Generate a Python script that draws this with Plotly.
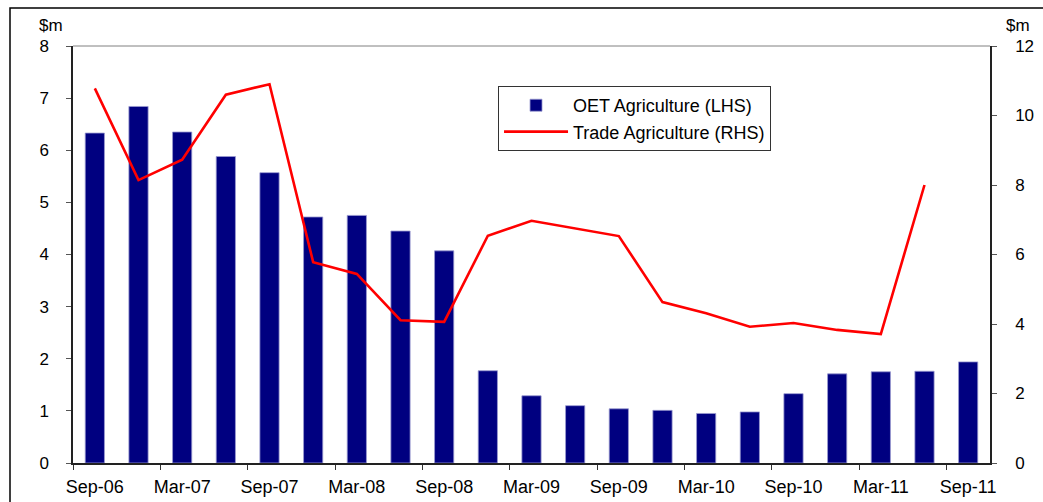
import plotly.graph_objects as go

quarters = ["Sep-06", "Dec-06", "Mar-07", "Jun-07", "Sep-07", "Dec-07", "Mar-08", "Jun-08",
            "Sep-08", "Dec-08", "Mar-09", "Jun-09", "Sep-09", "Dec-09", "Mar-10", "Jun-10",
            "Sep-10", "Dec-10", "Mar-11", "Jun-11", "Sep-11"]
oet_agriculture = [6.33, 6.84, 6.35, 5.88, 5.57, 4.72, 4.75, 4.45, 4.07, 1.77, 1.29, 1.10,
                   1.04, 1.01, 0.95, 0.98, 1.33, 1.71, 1.75, 1.76, 1.94]
trade_agriculture = [10.78, 8.14, 8.73, 10.6, 10.9, 5.78, 5.44, 4.11, 4.06, 6.54, 6.97, 6.75,
                     6.53, 4.63, 4.31, 3.92, 4.03, 3.83, 3.71, 8.0, None]

FONT = "Liberation Sans, Arial, sans-serif"

fig = go.Figure()
fig.add_trace(go.Bar(
    x=quarters, y=oet_agriculture, name="OET Agriculture (LHS)",
    marker=dict(color="#000080", line=dict(color="#9a9ad0", width=0.8)),
    width=0.44, yaxis="y",
))
fig.add_trace(go.Scatter(
    x=quarters, y=trade_agriculture, name="Trade Agriculture (RHS)", mode="lines",
    line=dict(color="#ff0000", width=2.6), yaxis="y2", connectgaps=False,
))

fig.update_layout(
    width=1043, height=502,
    margin=dict(l=73, r=53, t=46, b=39, autoexpand=False),
    paper_bgcolor="white", plot_bgcolor="white",
    font=dict(family=FONT, size=17, color="black"),
    showlegend=True,
    legend=dict(x=0.4635, y=0.904, xanchor="left", yanchor="top",
                bordercolor="#333333", borderwidth=1, bgcolor="white",
                font=dict(family=FONT, size=18, color="black"),
                tracegroupgap=0, itemwidth=64),
    xaxis=dict(type="category", range=[-0.5, 20.5], tickmode="linear", tick0=0, dtick=2,
               tickson="boundaries", ticks="outside", ticklen=5, tickwidth=1.2, tickangle=0,
               tickcolor="#333333", showline=True, linecolor="#222222", linewidth=1.5,
               showgrid=False, zeroline=False, automargin=False, ticklabelstandoff=7,
               tickfont=dict(family=FONT, size=18, color="black")),
    yaxis=dict(range=[0, 8], dtick=1, ticks="outside", ticklen=5, tickwidth=1.2,
               tickcolor="#555555", showline=True, linecolor="#222222", linewidth=1.5,
               showgrid=False, zeroline=False, ticklabelstandoff=14, automargin=False,
               tickfont=dict(family=FONT, size=17, color="black")),
    yaxis2=dict(range=[0, 12], dtick=2, overlaying="y", side="right", ticks="outside",
                ticklen=5, tickwidth=1.2, tickcolor="#555555", showline=True,
                linecolor="#222222", linewidth=1.5, showgrid=False, zeroline=False,
                ticklabelstandoff=15, automargin=False,
                tickfont=dict(family=FONT, size=17, color="black")),
    bargap=0.56,
    shapes=[
        dict(type="line", xref="paper", yref="paper", x0=0, x1=1, y0=1, y1=1,
             line=dict(color="#808080", width=1)),
        dict(type="rect", xref="paper", yref="paper", x0=-0.0687, x1=1.2, y0=-0.2, y1=1.0911,
             line=dict(color="black", width=1.5), layer="below"),
    ],
    annotations=[
        dict(text="$m", xref="paper", yref="paper", x=-0.024, y=1.05, showarrow=False,
             xanchor="center", yanchor="middle",
             font=dict(family=FONT, size=17, color="black")),
        dict(text="$m", xref="paper", yref="paper", x=1.03, y=1.05, showarrow=False,
             xanchor="center", yanchor="middle",
             font=dict(family=FONT, size=17, color="black")),
    ],
)

fig.write_html("out.html", config={"displayModeBar": False},
               post_script="document.body.style.margin='0';")
